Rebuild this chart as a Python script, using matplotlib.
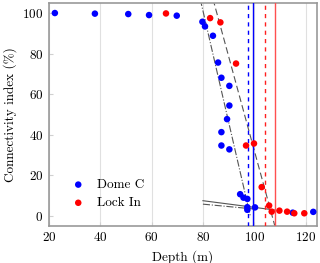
import numpy as np
import matplotlib
matplotlib.use('Agg')
import matplotlib.pyplot as plt

plt.rcParams['font.family'] = 'serif'
plt.rcParams['font.serif'] = ['cmr10']
plt.rcParams['axes.formatter.use_mathtext'] = True
plt.rcParams['mathtext.fontset'] = 'cm'

# Dome C
dome_depth = [22.3, 37.9, 50.9, 59.0, 69.8, 79.8, 80.8, 83.9, 85.9, 87.2, 90.3, 90.3,
              89.4, 87.2, 87.2, 90.3, 94.5, 95.8, 97.3, 97.3, 97.3, 100.3, 115.0, 123.0]
dome_ci = [100.0, 99.7, 99.5, 99.0, 98.7, 95.7, 93.4, 88.8, 75.6, 68.1, 64.1, 54.4,
           47.7, 41.3, 34.7, 32.8, 10.7, 9.0, 8.4, 4.3, 3.0, 4.2, 1.6, 2.0]

# Lock In
lock_depth = [65.6, 82.8, 86.8, 92.9, 96.8, 99.9, 102.9, 105.8, 106.8, 109.8, 112.8, 115.6, 119.5]
lock_ci = [99.8, 97.5, 95.4, 75.1, 34.7, 35.7, 14.2, 5.1, 2.1, 2.6, 2.1, 1.3, 1.3]

# linear fits (x0, y0, slope)
fit_steep_dome = (79.3, 105.0, -5.48)
fit_flat_dome = (80.0, 5.8, -0.12)
fit_steep_lock = (84.7, 103.3, -4.64)
fit_flat_lock = (80.0, 7.5, -0.164)

# vertical markers
dome_lines = [97.5, 99.4]
lock_lines = [104.3, 108.1]

fig = plt.figure(figsize=(3.2, 2.63), dpi=100)
ax = fig.add_axes([0.153, 0.142, 0.838, 0.847])

def fit_line(p, x):
    x0, y0, m = p
    return y0 + m * (np.asarray(x) - x0)

xs = np.array([78, 98.5])
ax.plot(xs, fit_line(fit_steep_dome, xs), color='#555555', lw=0.8, ls='-.', zorder=2)
xs = np.array([80, 100])
ax.plot(xs, fit_line(fit_flat_dome, xs), color='#555555', lw=0.8, ls='-.', zorder=2)
xs = np.array([83, 110])
ax.plot(xs, fit_line(fit_steep_lock, xs), color='#555555', lw=0.8, ls=(0, (6, 3)), zorder=2)
xs = np.array([80, 108])
ax.plot(xs, fit_line(fit_flat_lock, xs), color='#555555', lw=0.8, ls='-', zorder=2)

ax.axvline(dome_lines[0], color='blue', lw=1.0, ls=(0, (3, 3)), zorder=3)
ax.axvline(dome_lines[1], color='blue', lw=1.0, zorder=3)
ax.axvline(lock_lines[0], color='#ff2020', lw=1.0, ls=(0, (3, 3)), zorder=3)
ax.axvline(lock_lines[1], color='#ff5050', lw=1.0, zorder=3)

ax.scatter(dome_depth, dome_ci, s=22, color='blue', edgecolors='none', label='Dome C', zorder=4)
ax.scatter(lock_depth, lock_ci, s=22, color='red', edgecolors='none', label='Lock In', zorder=5)

ax.set_xlim(20, 124.5)
ax.set_ylim(-4.8, 105)
ax.set_xticks([20, 40, 60, 80, 100, 120])
ax.set_yticks([0, 20, 40, 60, 80, 100])
ax.xaxis.grid(True, color='#e0e0e0', lw=0.8)
ax.set_axisbelow(True)
ax.tick_params(direction='in', length=3, color='#d0d0d0', labelsize=9.5, pad=4)
for s in ax.spines.values():
    s.set_color('#999999')
    s.set_linewidth(1.2)

ax.set_xlabel('Depth (m)', fontsize=9.5)
ax.set_ylabel('Connectivity index (%)', fontsize=9.5)

ax.legend(loc='lower left', bbox_to_anchor=(0.06, 0.05), frameon=False, fontsize=9.5,
          handletextpad=0.8, borderaxespad=0, labelspacing=0.45, handlelength=1.2)

fig.savefig('out.png', dpi=100)
